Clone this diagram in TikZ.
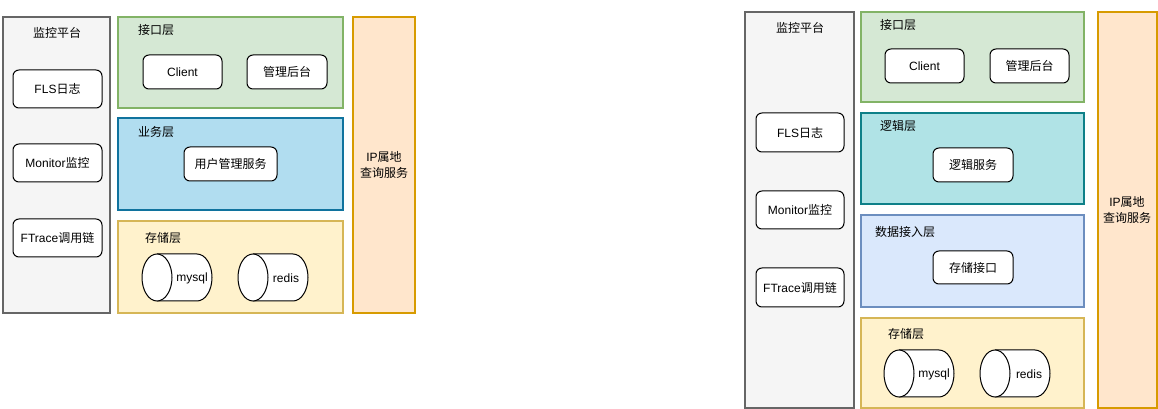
\documentclass[tikz,border=0pt]{standalone}
\usepackage{fontspec}
\setmainfont{Liberation Sans}
\newfontfamily\cjk{Noto Sans CJK SC}
\newcommand\zh[1]{{\cjk #1}}
\definecolor{grayF}{HTML}{F5F5F5}\definecolor{grayS}{HTML}{666666}
\definecolor{greenF}{HTML}{D5E8D4}\definecolor{greenS}{HTML}{82B366}
\definecolor{blueF}{HTML}{B1DDF0}\definecolor{blueS}{HTML}{10739E}
\definecolor{yelF}{HTML}{FFF2CC}\definecolor{yelS}{HTML}{D6B656}
\definecolor{orF}{HTML}{FFE6CC}\definecolor{orS}{HTML}{D79B00}
\definecolor{tealF}{HTML}{B0E3E6}\definecolor{tealS}{HTML}{0E8088}
\definecolor{lbF}{HTML}{DAE8FC}\definecolor{lbS}{HTML}{6C8EBF}
\newcommand\cyl[4]{%
 \path[cylst] ({#1+15},#2) -- ({#3-15},#2) arc[start angle=-90,end angle=90,x radius=15,y radius={(#4-#2)/2}] -- ({#1+15},#4);
 \path[cylst] ({#1+15},{(#2+#4)/2}) ellipse[x radius=15,y radius={(#4-#2)/2}];}
\begin{document}
\begin{tikzpicture}[x=0.75pt,y=-0.75pt,font=\fontsize{9}{12}\selectfont,
  cont/.style={line width=0.8pt},
  boxst/.style={draw=black,fill=white,line width=0.75pt,rounded corners=4.5pt},
  cylst/.style={draw=black,fill=white,line width=0.75pt},
  lbl/.style={inner sep=0pt,align=center}]
\useasboundingbox (0,0) rectangle (1158,409);
% ---------------- left diagram ----------------
\draw[cont,fill=grayF,draw=grayS] (3,17) rectangle (110,313);
\node[lbl] (lplat) at (57,33) {\zh{监控平台}};
\draw[boxst] (13,70) rectangle (102,108);
\node[lbl] (lfls) at (57.5,89) {FLS\zh{日志}};
\draw[boxst] (13,144) rectangle (102,182);
\node[lbl] (lmon) at (57.5,163) {Monitor\zh{监控}};
\draw[boxst] (13,219) rectangle (102,257);
\node[lbl] (lftr) at (57.5,238) {FTrace\zh{调用链}};
\draw[cont,fill=greenF,draw=greenS] (118,17) rectangle (343,108);
\node[lbl] (lapi) at (156,30) {\zh{接口层}};
\draw[boxst] (143,55) rectangle (222,89);
\node[lbl] (lclient) at (182.5,72) {Client};
\draw[boxst] (247,55) rectangle (327,89);
\node[lbl] (ladmin) at (287,72) {\zh{管理后台}};
\draw[cont,fill=blueF,draw=blueS] (118,118) rectangle (343,210);
\node[lbl] (lbiz) at (156,132) {\zh{业务层}};
\draw[boxst] (184,147) rectangle (277,181);
\node[lbl] (luser) at (230.5,164) {\zh{用户管理服务}};
\draw[cont,fill=yelF,draw=yelS] (118,221) rectangle (343,313);
\node[lbl] (lstore) at (163,238) {\zh{存储层}};
\cyl{142}{254}{212}{301}
\node[lbl] (lmysql) at (192,278) {mysql};
\cyl{238}{254}{308}{301}
\node[lbl] (lredis) at (286,278) {redis};
\draw[cont,fill=orF,draw=orS] (353,17) rectangle (415,313);
\node[lbl] (lip) at (384,165) {IP\zh{属地}\\\zh{查询服务}};
% ---------------- right diagram ----------------
\draw[cont,fill=grayF,draw=grayS] (745,12) rectangle (854,408);
\node[lbl] (rplat) at (800,28) {\zh{监控平台}};
\draw[boxst] (756,113) rectangle (844,152);
\node[lbl] (rfls) at (800,132.5) {FLS\zh{日志}};
\draw[boxst] (756,191) rectangle (844,229);
\node[lbl] (rmon) at (800,210) {Monitor\zh{监控}};
\draw[boxst] (756,268) rectangle (844,307);
\node[lbl] (rftr) at (800,287.5) {FTrace\zh{调用链}};
\draw[cont,fill=greenF,draw=greenS] (861,12) rectangle (1084,102);
\node[lbl] (rapi) at (898,25) {\zh{接口层}};
\draw[boxst] (885,49) rectangle (964,83);
\node[lbl] (rclient) at (924.5,66) {Client};
\draw[boxst] (990,49) rectangle (1069,83);
\node[lbl] (radmin) at (1029.5,66) {\zh{管理后台}};
\draw[cont,fill=tealF,draw=tealS] (861,113) rectangle (1084,204);
\node[lbl] (rlogic) at (898,126) {\zh{逻辑层}};
\draw[boxst] (933,148) rectangle (1013,182);
\node[lbl] (rlsvc) at (973,165) {\zh{逻辑服务}};
\draw[cont,fill=lbF,draw=lbS] (861,215) rectangle (1084,307);
\node[lbl] (rdata) at (905,232) {\zh{数据接入层}};
\draw[boxst] (933,251) rectangle (1013,284);
\node[lbl] (rsif) at (973,267.5) {\zh{存储接口}};
\draw[cont,fill=yelF,draw=yelS] (861,318) rectangle (1084,408);
\node[lbl] (rstore) at (906,334) {\zh{存储层}};
\cyl{884}{350}{954}{397}
\node[lbl] (rmysql) at (934,374) {mysql};
\cyl{980}{350}{1050}{397}
\node[lbl] (rredis) at (1029,374) {redis};
\draw[cont,fill=orF,draw=orS] (1098,12) rectangle (1157,408);
\node[lbl] (rip) at (1127,210) {IP\zh{属地}\\\zh{查询服务}};
\end{tikzpicture}
\end{document}
